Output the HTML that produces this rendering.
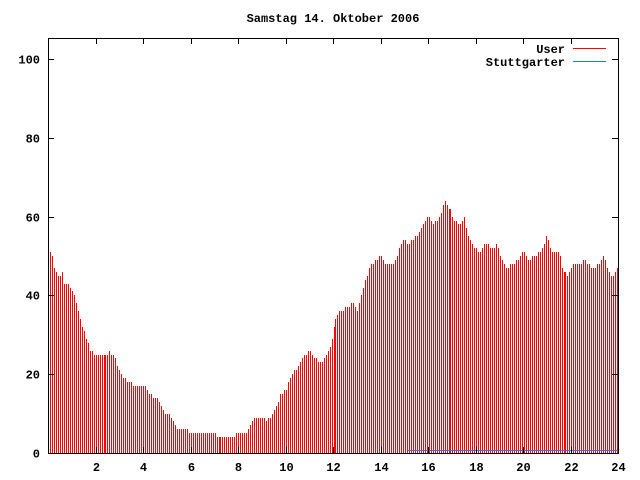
<!DOCTYPE html>
<html><head><meta charset="utf-8"><style>
html,body{margin:0;padding:0;background:#fff}
svg{display:block}
text{font-family:"Liberation Mono","DejaVu Sans Mono",monospace;font-weight:bold;font-size:12px;fill:#000}
</style></head><body>
<svg id="s" width="640" height="480" xmlns="http://www.w3.org/2000/svg" shape-rendering="crispEdges">
<text x="333" y="22" text-anchor="middle">Samstag 14. Oktober 2006</text>
<g id="bars" stroke="#ff0000" stroke-width="1"></g>
<line x1="408" y1="450.5" x2="617" y2="450.5" stroke="#1e78e6" stroke-width="1"/>
<rect x="48.5" y="38.5" width="570" height="415" fill="none" stroke="#000" stroke-width="1"/>
<g id="ticks" stroke="#000" stroke-width="1"></g>
<g id="labels"></g>
<text x="565" y="53" text-anchor="end">User</text>
<line x1="573" y1="48.5" x2="606" y2="48.5" stroke="#ff0000"/>
<text x="565" y="66" text-anchor="end">Stuttgarter</text>
<line x1="573" y1="61.5" x2="606" y2="61.5" stroke="#1e78e6"/>
</svg>
<script>
var kp=[[0,53],[0.1,51],[0.2,49],[0.3,46],[0.5,45],[0.6,46],[0.7,42],[0.8,43],[1.0,41],[1.2,38],[1.4,33],[1.6,29],[1.8,26],[2.0,25],[2.4,25],[2.6,26],[2.8,24],[3.0,21],[3.2,19],[3.4,18],[3.6,17],[4.0,17],[4.2,16],[4.4,14],[4.6,14],[4.8,11],[5.0,10],[5.2,9],[5.4,6],[5.8,6],[6.0,5],[7.0,5],[7.2,4],[7.8,4],[8.0,5],[8.3,5],[8.5,7],[8.7,9],[9.0,9],[9.2,8],[9.5,11],[9.8,15],[10.0,16],[10.2,19],[10.5,22],[10.8,25],[11.0,26],[11.2,24],[11.5,23],[11.8,26],[12.0,30],[12.1,35],[12.3,36],[12.6,37],[12.8,38],[13.0,36],[13.2,40],[13.4,45],[13.6,48],[13.8,49],[14.0,50],[14.2,48],[14.5,48],[14.7,50],[14.9,54],[15.2,53],[15.5,55],[15.8,58],[16.0,60],[16.2,58],[16.5,60],[16.7,64],[16.9,62],[17.1,59],[17.4,58],[17.5,60],[17.7,55],[17.9,52],[18.2,51],[18.4,53],[18.7,52],[18.9,53],[19.1,49],[19.3,47],[19.5,48],[19.8,49],[20.0,51],[20.2,49],[20.5,50],[20.7,51],[21.0,55],[21.2,51],[21.5,51],[21.7,46],[21.9,45],[22.1,48],[22.4,48],[22.6,49],[22.9,47],[23.2,48],[23.4,50],[23.6,46],[23.8,45],[24.0,47]];
function val(t){for(var i=0;i<kp.length-1;i++){if(t<=kp[i+1][0]){var a=kp[i],b=kp[i+1];return a[1]+(b[1]-a[1])*(t-a[0])/(b[0]-a[0]);}}return 47;}
var ns="http://www.w3.org/2000/svg",g=document.getElementById('bars');
function Y(v){return 453-v*3.94;}
for(var i=0;i<300;i++){var xr=Math.floor(50.47+i*1.9828);if(xr>617)break;var x=xr+0.5;var t=(xr-48)/23.75;var v=Math.round(val(t));
var l=document.createElementNS(ns,'line');l.setAttribute('x1',x);l.setAttribute('x2',x);l.setAttribute('y1',453);l.setAttribute('y2',Math.round(Y(v)));g.appendChild(l);}
var tk=document.getElementById('ticks'),lb=document.getElementById('labels');
function ln(x1,y1,x2,y2){var l=document.createElementNS(ns,'line');l.setAttribute('x1',x1);l.setAttribute('y1',y1);l.setAttribute('x2',x2);l.setAttribute('y2',y2);tk.appendChild(l);}
function tx(x,y,s,a){var e=document.createElementNS(ns,'text');e.setAttribute('x',x);e.setAttribute('y',y);e.setAttribute('text-anchor',a);e.textContent=s;lb.appendChild(e);}
for(var v=0;v<=100;v+=20){var y=Math.round(Y(v))+0.5;ln(48,y,54,y);ln(612,y,618,y);tx(40,y+4,String(v),'end');}
for(var h=2;h<=24;h+=2){var x=Math.round(48+h*23.75)+0.5;ln(x,453,x,447);ln(x,38,x,44);tx(x,471,String(h),'middle');}
</script>
</body></html>
